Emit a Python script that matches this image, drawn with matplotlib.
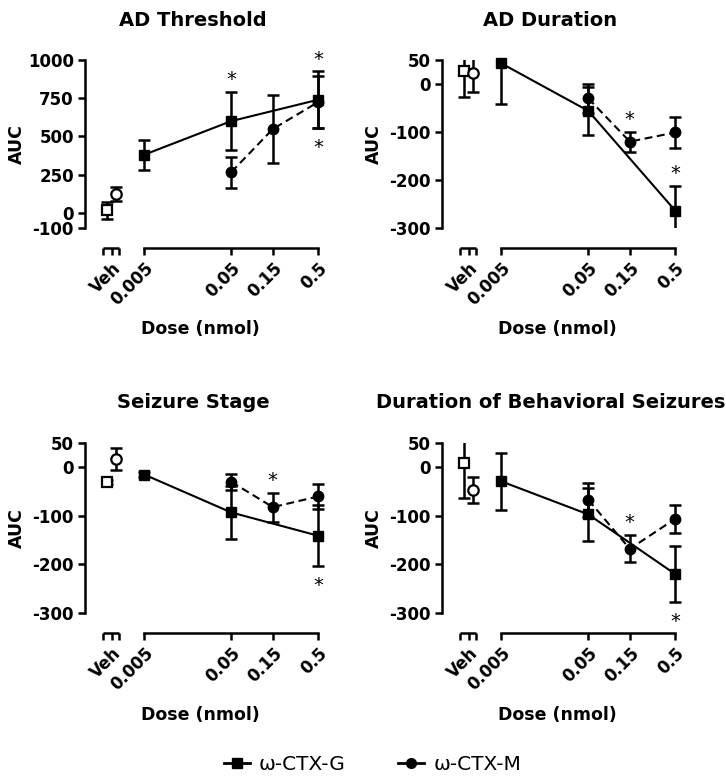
import matplotlib.pyplot as plt
from matplotlib.lines import Line2D
from matplotlib.transforms import ScaledTranslation

plt.rcParams['font.family'] = ['DejaVu Sans']
plt.rcParams['font.weight'] = 'bold'
plt.rcParams['axes.labelweight'] = 'bold'

titles = ['AD Threshold', 'AD Duration', 'Seizure Stage', 'Duration of Behavioral Seizures']

doses_G = [0.005, 0.05, 0.5]
doses_M = [0.05, 0.15, 0.5]
dose_ticks = [0.005, 0.05, 0.15, 0.5]
dose_labels = ['0.005', '0.05', '0.15', '0.5']

veh_G = [15, 27, -30, 8]
veh_G_err = [57, 55, 4, 71]
veh_M = [122, 22, 17, -46]
veh_M_err = [45, 38, 22, 27]

G_vals = [[380, 600, 740], [43, -56, -264], [-15, -93, -141], [-29, -97, -220]]
G_err = [[98, 188, 185], [85, 50, 52], [6, 55, 63], [58, 55, 57]]
M_vals = [[266, 548, 725], [-30, -120, -101], [-30, -82, -60], [-67, -168, -106]]
M_err = [[101, 223, 170], [31, 21, 33], [17, 30, 25], [35, 28, 29]]

# significance stars: (series, index, above/below)
stars = [[('G', 1, 'up'), ('G', 2, 'up'), ('M', 2, 'down')],
         [('M', 1, 'up'), ('G', 2, 'up')],
         [('M', 1, 'up'), ('G', 2, 'down')],
         [('M', 1, 'up'), ('G', 2, 'down')]]

yticks = [[-100, 0, 250, 500, 750, 1000],
          [-300, -200, -100, 0, 50],
          [-300, -200, -100, 0, 50],
          [-300, -200, -100, 0, 50]]

W, H = 726, 781
fig = plt.figure(figsize=(W / 100, H / 100), dpi=100)

left_px = [85, 442, 85, 442]
top_px = [60, 60, 443, 443]
h_px = [168, 168, 170, 170]
w_px = 246

veh_pos = [0.00185, 0.00236]
veh_seg = [0.00168, 0.00210, 0.00258]
x_left = 0.00104

lw = 1.8
for i in range(4):
    ax = fig.add_axes([left_px[i] / W, 1 - (top_px[i] + h_px[i]) / H, w_px / W, h_px[i] / H])
    ax.set_xscale('log')
    ax.set_xlim(x_left, 0.7)
    ax.set_ylim(yticks[i][0], yticks[i][-1])

    ekw = dict(fmt='none', ecolor='black', elinewidth=lw, capsize=4.5, capthick=lw)
    # M (dashed, circles)
    ax.errorbar(doses_M, M_vals[i], yerr=M_err[i], **ekw)
    ax.plot(doses_M, M_vals[i], color='black', lw=1.5, ls=(0, (3.8, 2.2)),
            marker='o', ms=7.5, clip_on=False, zorder=3)
    # G (solid, squares)
    ax.errorbar(doses_G, G_vals[i], yerr=G_err[i], **ekw)
    ax.plot(doses_G, G_vals[i], color='black', lw=1.5, marker='s', ms=7,
            clip_on=False, zorder=4)

    # vehicle points
    ax.errorbar([veh_pos[0]], [veh_G[i]], yerr=[veh_G_err[i]], **ekw)
    ax.plot([veh_pos[0]], [veh_G[i]], marker='s', ms=7, mfc='white', mec='black',
            mew=1.6, ls='none', clip_on=False, zorder=4)
    ax.errorbar([veh_pos[1]], [veh_M[i]], yerr=[veh_M_err[i]], **ekw)
    ax.plot([veh_pos[1]], [veh_M[i]], marker='o', ms=7.5, mfc='white', mec='black',
            mew=1.6, ls='none', clip_on=False, zorder=4)

    for ser, k, d in stars[i]:
        if ser == 'G':
            x, v, e = doses_G[k], G_vals[i][k], G_err[i][k]
        else:
            x, v, e = doses_M[k], M_vals[i][k], M_err[i][k]
        if d == 'up':
            ax.annotate('*', xy=(x, v + e), xytext=(0, 5), textcoords='offset points',
                        ha='center', va='baseline', fontsize=14, fontweight='normal',
                        annotation_clip=False)
        else:
            ax.annotate('*', xy=(x, v - e), xytext=(0, -18), textcoords='offset points',
                        ha='center', va='baseline', fontsize=14, fontweight='normal',
                        annotation_clip=False)

    # axes styling
    for s in ['top', 'right']:
        ax.spines[s].set_visible(False)
    ax.spines['left'].set_linewidth(lw)
    ax.spines['bottom'].set_linewidth(lw)
    ax.spines['bottom'].set_position(('outward', 14.4))
    ax.spines['bottom'].set_bounds(0.005, 0.5)

    ax.set_yticks(yticks[i])
    ax.set_yticklabels([str(t) for t in yticks[i]])
    ax.set_xticks(veh_seg + dose_ticks)
    ax.set_xticklabels(['', 'Veh', ''] + dose_labels, rotation=45, ha='right',
                       rotation_mode='anchor')
    ax.minorticks_off()
    ax.tick_params(axis='both', width=lw, length=5, labelsize=12, pad=3)

    trans = ax.get_xaxis_transform() + ScaledTranslation(0, -14.4 / 72, fig.dpi_scale_trans)
    ax.plot([veh_seg[0], veh_seg[-1]], [0, 0], color='black', lw=lw, transform=trans,
            clip_on=False, solid_capstyle='butt')

    ax.set_ylabel('AUC', fontsize=12.5)
    ax.yaxis.set_label_coords(-0.24, 0.5)
    ax.set_xlabel('Dose (nmol)', fontsize=12.5)
    ax.xaxis.set_label_coords(0.47, -0.545)
    ax.text(0.44, 1 + 40 / h_px[i], titles[i], transform=ax.transAxes, ha='center',
            va='center', fontsize=14)

handles = [Line2D([], [], color='black', lw=2, marker='s', ms=7),
           Line2D([], [], color='black', lw=2, marker='o', ms=7)]
fig.legend(handles, ['ω-CTX-G', 'ω-CTX-M'], loc='center', bbox_to_anchor=(0.513, 0.0205),
           ncol=2, frameon=False, prop={'size': 14.5, 'weight': 'normal'},
           handlelength=1.3, handletextpad=0.45, columnspacing=2.6)

fig.savefig('out.png', dpi=100)
